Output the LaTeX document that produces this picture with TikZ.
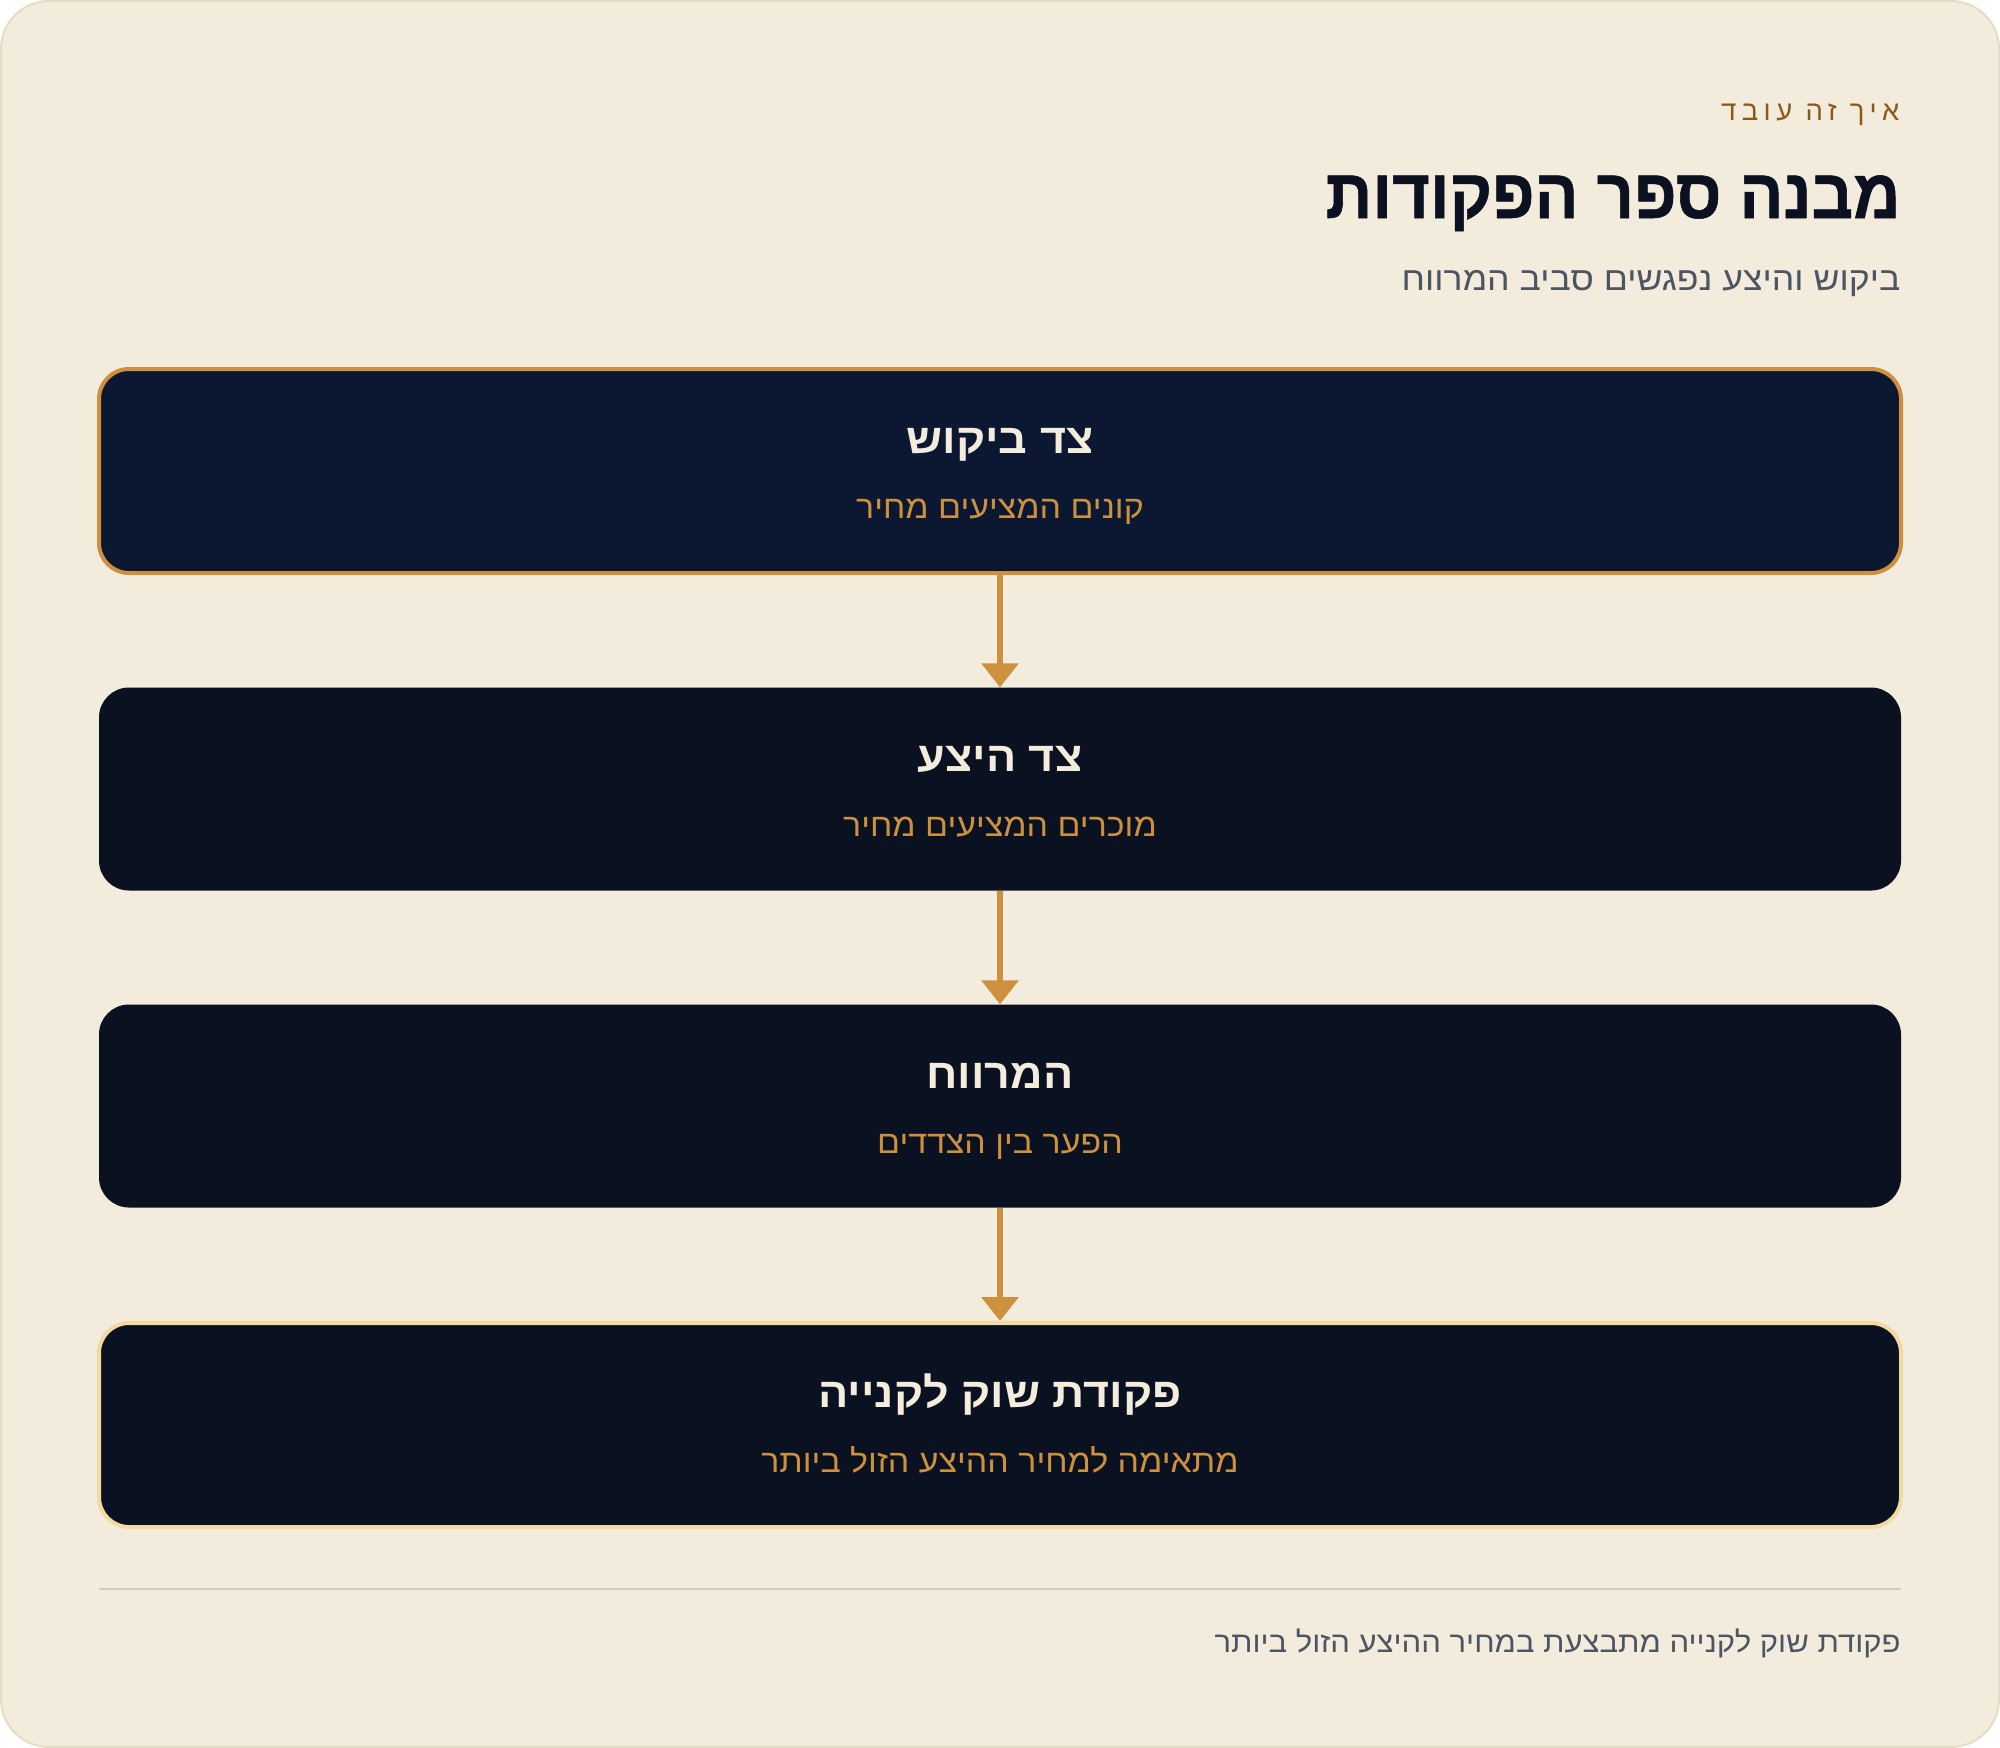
\documentclass[tikz,border=0pt]{standalone}
\usepackage{fontspec}
\setmainfont{Liberation Sans}[Script=Hebrew]
\TeXXeTstate=1
\usetikzlibrary{arrows.meta,positioning}

\definecolor{paper}{HTML}{F3EBDB}
\definecolor{paperline}{HTML}{E6DCC2}
\definecolor{ink}{HTML}{0B1120}
\definecolor{slate}{HTML}{4B5563}
\definecolor{brown}{HTML}{8A5A19}
\definecolor{gold}{HTML}{CC903E}
\definecolor{palegold}{HTML}{F2DAA2}
\definecolor{navy}{HTML}{0C1831}
\definecolor{night}{HTML}{0A1120}
\definecolor{cream}{HTML}{F4ECDD}
\definecolor{rule}{HTML}{D2CABD}

\begin{document}
\begin{tikzpicture}[x=1pt,y=-1pt,
  stage/.style={rectangle, rounded corners=30pt, minimum width=1802pt,
    minimum height=203pt, inner sep=0pt, fill=night},
  stagetitle/.style={anchor=base, text=cream,
    font=\fontsize{41.5}{49}\selectfont\bfseries\addfontfeature{FakeStretch=1.08}},
  stagenote/.style={anchor=base, text=gold,
    font=\fontsize{32}{38}\selectfont\addfontfeature{FakeStretch=1.06}},
  flow/.style={draw=gold, line width=6pt, -{Triangle[length=24pt,width=36pt]}}]

% page and card
\useasboundingbox (0,0) rectangle (2000,1748);
\draw[fill=paper, draw=paperline, line width=2pt, rounded corners=48pt] (1,1) rectangle (1999,1747);

% header, right aligned
\node[anchor=base east, text=brown, font=\fontsize{27.5}{32}\selectfont\addfontfeature{LetterSpace=20}]
  (kicker) at (1903,120) {\beginR איך זה עובד\endR};
\node[anchor=base east, text=ink,
  font=\fontsize{70}{84}\selectfont\bfseries\addfontfeature{FakeStretch=0.93,FakeBold=0.8}]
  (title) at (1904,218) {\beginR מבנה ספר הפקודות\endR};
\node[anchor=base east, text=slate, font=\fontsize{33}{40}\selectfont\addfontfeature{FakeStretch=1.08}]
  (lead) at (1904,290) {\beginR ביקוש והיצע נפגשים סביב המרווח\endR};

% the four stages
\node[stage, fill=navy, draw=gold, line width=4pt, minimum height=204pt] (bid) at (1000,471) {};
\node[stage] (ask) at (1000,789) {};
\node[stage] (spread) at (1000,1106) {};
\node[stage, draw=palegold, line width=4pt, minimum height=204pt] (order) at (1000,1425) {};

% stage texts
\node[stagetitle] (bidT) at ([yshift=18pt]bid.center) {\beginR צד ביקוש\endR};
\node[stagenote] (bidN) at ([yshift=-47pt]bid.center) {\beginR קונים המציעים מחיר\endR};
\node[stagetitle] (askT) at ([yshift=18pt]ask.center) {\beginR צד היצע\endR};
\node[stagenote] (askN) at ([yshift=-47pt]ask.center) {\beginR מוכרים המציעים מחיר\endR};
\node[stagetitle] (spreadT) at ([yshift=18pt]spread.center) {\beginR המרווח\endR};
\node[stagenote] (spreadN) at ([yshift=-47pt]spread.center) {\beginR הפער בין הצדדים\endR};
\node[stagetitle] (orderT) at ([yshift=18pt]order.center) {\beginR פקודת שוק לקנייה\endR};
\node[stagenote] (orderN) at ([yshift=-47pt]order.center) {\beginR מתאימה למחיר ההיצע הזול ביותר\endR};

% arrows between stages
\draw[flow] (bid.south) -- (ask.north);
\draw[flow] (ask.south) -- (spread.north);
\draw[flow] (spread.south) -- (order.north);

% footer
\coordinate (ruleL) at (99,1589);
\coordinate (ruleR) at (1901,1589);
\draw[rule, line width=2pt] (ruleL) -- (ruleR);
\node[anchor=base east, text=slate, font=\fontsize{29}{35}\selectfont\addfontfeature{FakeStretch=1.07}]
  (foot) at (1904,1652) {\beginR פקודת שוק לקנייה מתבצעת במחיר ההיצע הזול ביותר\endR};

\end{tikzpicture}
\end{document}
